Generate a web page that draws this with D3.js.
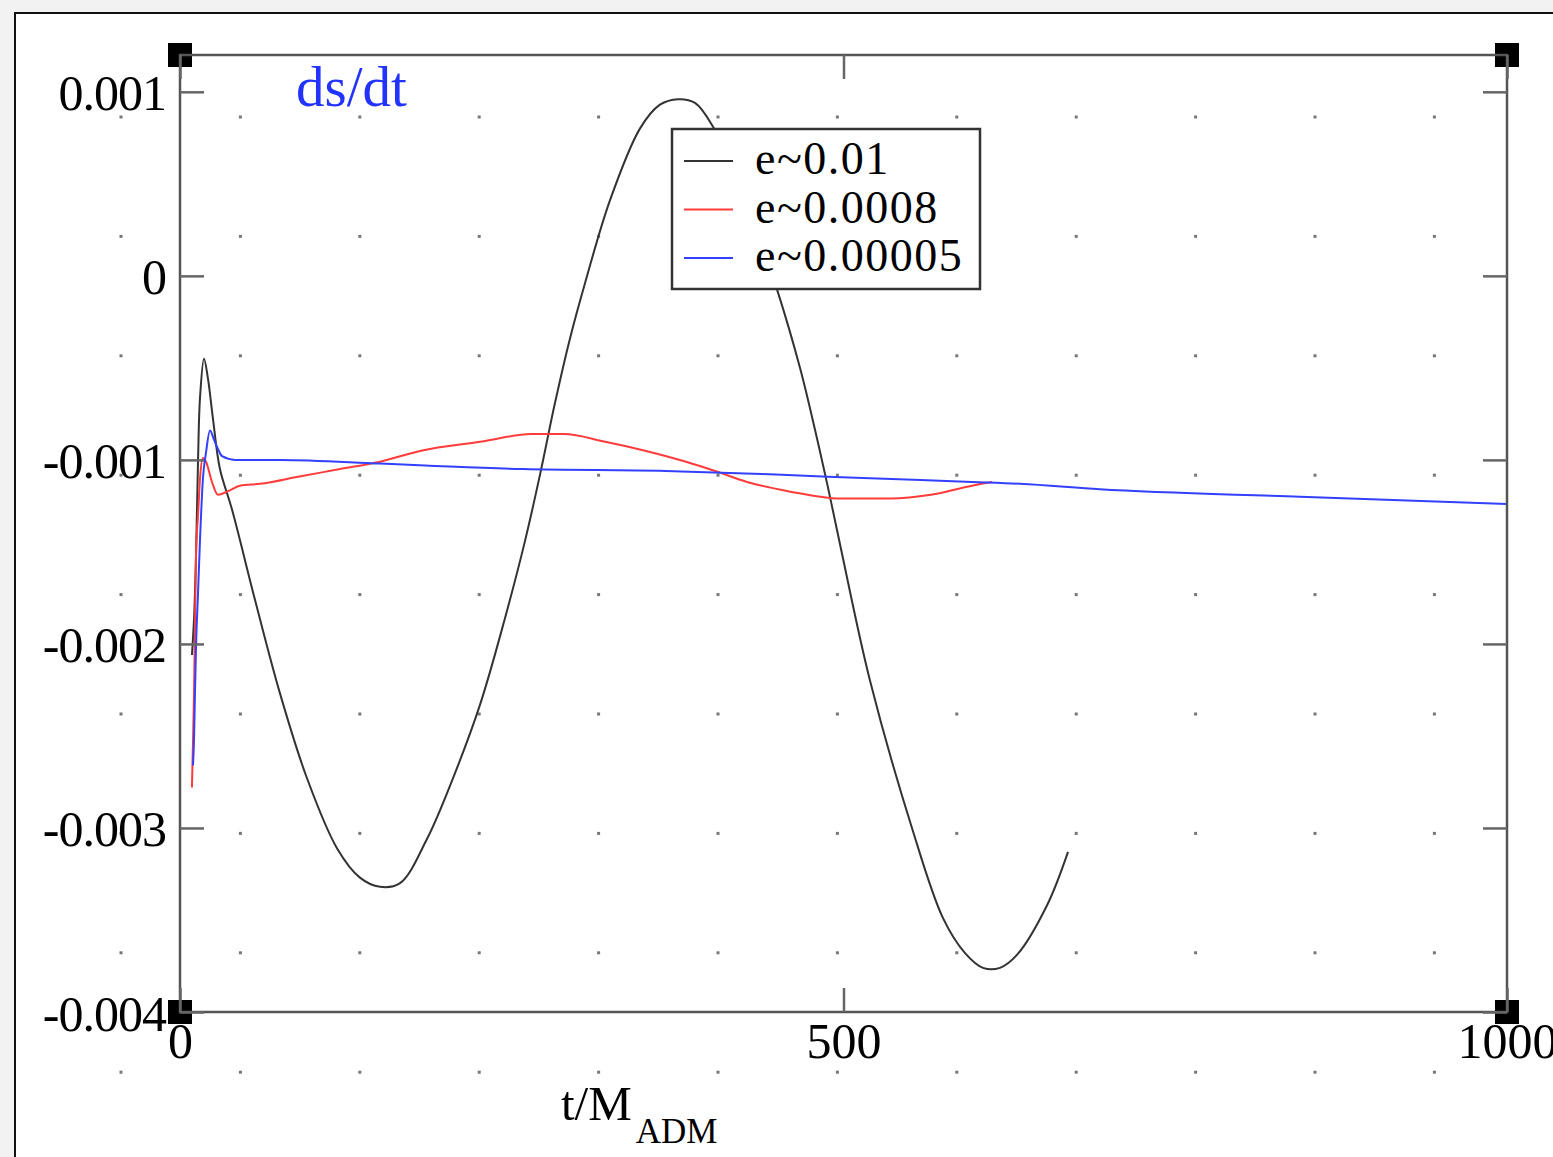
<!DOCTYPE html>
<html>
<head>
<meta charset="utf-8">
<script src="https://cdn.jsdelivr.net/npm/d3@7"></script>
<style>
  body { margin: 0; background: #f2f2f2; }
  text { font-family: "Liberation Serif", "Times New Roman", serif; }
</style>
</head>
<body>
<div id="chart"></div>
<script>
// series: [t/M_ADM, ds/dt]
const e001 = [
  [9.0, -0.00206], [10.6, -0.00186], [12.1, -0.00151], [13.6, -0.00100], [15.1, -0.00066],
  [18.1, -0.00045], [21.1, -0.00056], [24.9, -0.00078], [30.1, -0.00105], [39.2, -0.00127],
  [56.5, -0.00176], [75.4, -0.00227], [95.7, -0.00273], [118.3, -0.00311], [135.6, -0.00327],
  [150.7, -0.00332], [165.8, -0.00330], [186.1, -0.00306], [205.7, -0.00273], [226.1, -0.00233],
  [244.9, -0.00186], [260.0, -0.00144], [271.3, -0.00108], [282.6, -0.00069], [293.9, -0.00034],
  [305.2, -0.00004], [324.0, 0.00041], [346.6, 0.00080], [361.7, 0.00093], [375.3, 0.00096],
  [388.1, 0.00094], [401.7, 0.00081], [422.0, 0.00049], [437.1, 0.00019], [450.6, -0.00009],
  [467.2, -0.00050], [478.0, -0.00082], [488.0, -0.00114], [498.0, -0.00148], [520.0, -0.00220],
  [551.6, -0.00300], [575.0, -0.00349], [591.6, -0.00368], [605.1, -0.00376], [617.9, -0.00376],
  [630.7, -0.00369], [653.4, -0.00342], [669.2, -0.00313]
];
const e00008 = [
  [9.0, -0.00278], [9.8, -0.00253], [10.6, -0.00226], [12.1, -0.00150], [13.6, -0.00130],
  [15.1, -0.00110], [17.3, -0.00099], [19.6, -0.00101], [24.1, -0.00112], [28.6, -0.00119],
  [36.2, -0.00117], [45.2, -0.00114], [60.3, -0.00113], [90.0, -0.00109], [120.6, -0.00105],
  [150.7, -0.00101], [181.6, -0.00095], [227.6, -0.00090], [264.5, -0.00086], [289.4, -0.00086],
  [319.5, -0.00090], [350.4, -0.00095], [381.3, -0.00101], [403.2, -0.00106], [427.3, -0.00112],
  [458.2, -0.00117], [498.1, -0.00121], [535.0, -0.00121], [566.0, -0.00119], [596.8, -0.00114],
  [612.0, -0.00112]
];
const e000005 = [
  [9.8, -0.00266], [10.6, -0.00251], [11.3, -0.00226], [12.1, -0.00201], [13.6, -0.00172],
  [15.1, -0.00143], [17.3, -0.00110], [19.6, -0.00096], [22.6, -0.00084], [25.6, -0.00089],
  [28.6, -0.00094], [31.7, -0.00098], [41.4, -0.00100], [75.4, -0.00100], [150.7, -0.00102],
  [184.6, -0.00103], [258.5, -0.00105], [366.0, -0.00106], [449.0, -0.00108], [520.0, -0.00110],
  [597.0, -0.00112], [633.0, -0.00113], [693.0, -0.00116], [844.0, -0.00120], [1000.0, -0.00124]
];
const seriesNames = ["e~0.01", "e~0.0008", "e~0.00005"];
const seriesColors = ["#333333", "#ff3b3b", "#3340ff"];
const xTicks = [0, 500, 1000];
const yTicks = [0.001, 0, -0.001, -0.002, -0.003, -0.004];
const yTickLabels = ["0.001", "0", "-0.001", "-0.002", "-0.003", "-0.004"];

const width = 1553, height = 1157;
const margin = { top: 55, left: 180, right: 46, bottom: 145 };

const svg = d3.select("#chart").append("svg")
  .attr("width", width)
  .attr("height", height)
  .style("display", "block");

// window frame
svg.append("rect").attr("x", 0).attr("y", 0).attr("width", width).attr("height", height).attr("fill", "#f2f2f2");
svg.append("rect").attr("x", 15).attr("y", 13).attr("width", width).attr("height", height)
  .attr("fill", "#fff").attr("stroke", "#111").attr("stroke-width", 2);

// canvas dot grid
const dotX = d3.range(121, width, 119.4);
const dotY = d3.range(117, height, 119.4);
const dots = svg.append("g");
dotY.forEach(y => dotX.forEach(x => {
  dots.append("rect").attr("x", x - 1.5).attr("y", y - 1.5).attr("width", 3).attr("height", 3).attr("fill", "#777");
}));

const xScale = d3.scaleLinear().domain([0, 1000]).range([margin.left, width - margin.right]);
const yScale = d3.scaleLinear().domain([-0.004, 0.0012]).range([height - margin.bottom, margin.top]);

const x0 = xScale(0), x1 = xScale(1000), y0 = yScale(-0.004), y1 = yScale(0.0012);

// corner handles
[[x0, y1], [x1, y1], [x0, y0], [x1, y0]].forEach(([cx, cy]) => {
  svg.append("rect").attr("x", cx - 12).attr("y", cy - 12).attr("width", 24).attr("height", 24).attr("fill", "#000");
});

svg.append("defs").append("clipPath").attr("id", "plotclip")
  .append("rect").attr("x", x0).attr("y", y1).attr("width", x1 - x0).attr("height", y0 - y1);

// lines
const smoothLine = d3.line()
  .x(d => xScale(d[0]))
  .y(d => yScale(d[1]))
  .curve(d3.curveCatmullRom.alpha(0.5));
const line = d3.line()
  .x(d => xScale(d[0]))
  .y(d => yScale(d[1]))
  .curve(d3.curveMonotoneX);

const lines = svg.append("g").attr("clip-path", "url(#plotclip)");
[e001, e00008, e000005].forEach((s, i) => {
  lines.append("path").datum(s)
    .attr("d", i === 0 ? smoothLine : line)
    .attr("fill", "none")
    .attr("stroke", seriesColors[i])
    .attr("stroke-width", 2);
});

// frame
svg.append("rect").attr("x", x0).attr("y", y1).attr("width", x1 - x0).attr("height", y0 - y1)
  .attr("fill", "none").attr("stroke", "#555").attr("stroke-width", 2.5);

// axes (grace style: ticks inward, both sides)
const tickStyle = g => {
  g.select(".domain").remove();
  g.selectAll(".tick line").attr("stroke", "#666").attr("stroke-width", 2.5);
};

svg.append("g").attr("transform", `translate(0,${y0})`)
  .call(d3.axisBottom(xScale).tickValues(xTicks).tickSize(-24).tickPadding(10).tickFormat(d3.format("d")))
  .call(tickStyle)
  .call(g => g.selectAll("text").attr("font-size", 50).attr("fill", "#000").attr("font-family", "Liberation Serif"));

svg.append("g").attr("transform", `translate(0,${y1})`)
  .call(d3.axisTop(xScale).tickValues(xTicks).tickSize(-24).tickFormat(""))
  .call(tickStyle);

svg.append("g").attr("transform", `translate(${x0},0)`)
  .call(d3.axisLeft(yScale).tickValues(yTicks).tickSize(-24).tickPadding(14)
    .tickFormat((d, i) => yTickLabels[i]))
  .call(tickStyle)
  .call(g => g.selectAll("text").attr("font-size", 50).attr("fill", "#000")
    .attr("font-family", "Liberation Serif").attr("dy", "0.36em").attr("letter-spacing", -1));

svg.append("g").attr("transform", `translate(${x1},0)`)
  .call(d3.axisRight(yScale).tickValues(yTicks).tickSize(-24).tickFormat(""))
  .call(tickStyle);

// titles
svg.append("text").attr("x", 296).attr("y", 106).attr("font-size", 57).attr("fill", "#2233ff").text("ds/dt");

const xLabel = svg.append("text").attr("x", 561).attr("y", 1120).attr("font-size", 49).attr("fill", "#000");
xLabel.append("tspan").text("t/M");
xLabel.append("tspan").attr("font-size", 35).attr("dx", 4).attr("dy", 23).text("ADM");

// legend
const legend = svg.append("g").attr("transform", "translate(672,129)");
legend.append("rect").attr("width", 308).attr("height", 160)
  .attr("fill", "#fff").attr("stroke", "#333").attr("stroke-width", 2.5);
seriesNames.forEach((name, i) => {
  const ly = 32 + i * 48.5;
  legend.append("line").attr("x1", 12).attr("x2", 61).attr("y1", ly).attr("y2", ly)
    .attr("stroke", seriesColors[i]).attr("stroke-width", 2);
  legend.append("text").attr("x", 83).attr("y", ly + 13).attr("font-size", 46)
    .attr("letter-spacing", 1.5).attr("fill", "#000")
    .text(name);
});
</script>
</body>
</html>
